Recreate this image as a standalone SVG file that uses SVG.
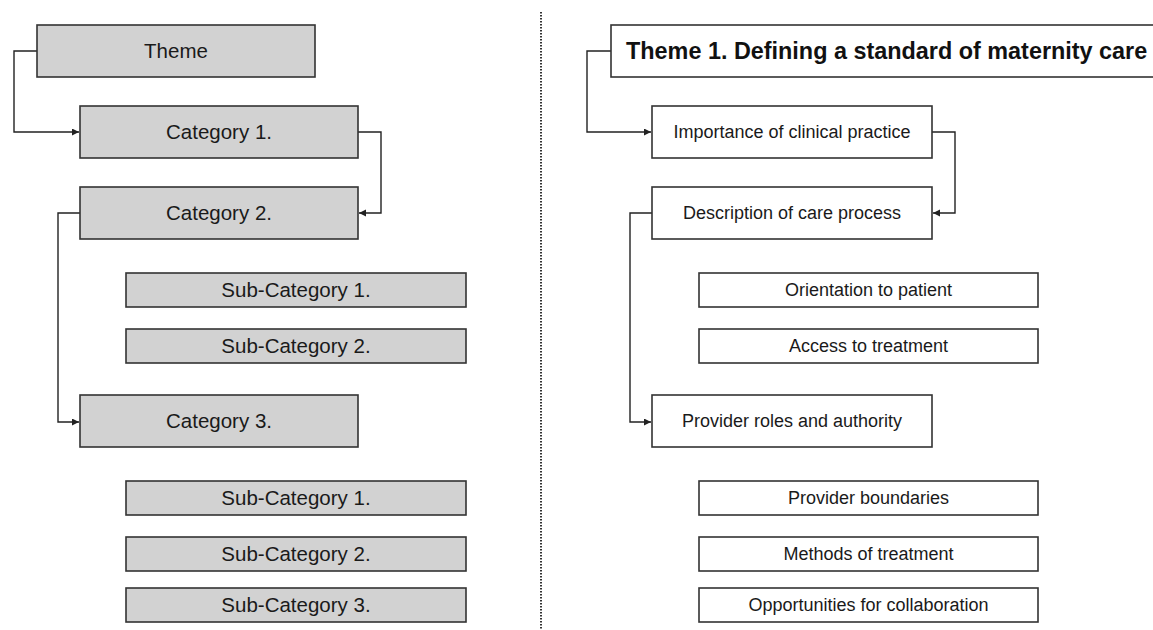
<svg xmlns="http://www.w3.org/2000/svg" width="1153" height="630" viewBox="0 0 1153 630">
<style>
.g{fill:#d2d2d2;stroke:#333;stroke-width:1.6}
.w{fill:#fff;stroke:#333;stroke-width:1.6}
.tl{font-family:"Liberation Sans",Arial,sans-serif;font-size:20.5px;fill:#1a1a1a;text-anchor:middle}
.tr{font-family:"Liberation Sans",Arial,sans-serif;font-size:18px;fill:#1a1a1a;text-anchor:middle}
.tb{font-family:"Liberation Sans",Arial,sans-serif;font-size:23.4px;font-weight:bold;fill:#111}
.c{fill:none;stroke:#222;stroke-width:1.4;marker-end:url(#ah)}
</style>
<defs>
<marker id="ah" markerUnits="userSpaceOnUse" markerWidth="8" markerHeight="8" refX="7" refY="3.5" orient="auto">
<path d="M0,0 L7,3.5 L0,7 z" fill="#222"/>
</marker>
</defs>
<rect width="1153" height="630" fill="#fff"/>
<line x1="541" y1="12" x2="541" y2="630" stroke="#333" stroke-width="2" stroke-dasharray="1.5 1.5"/>
<g id="connectors">
<path class="c" d="M37,51 H14 V132 H79"/>
<path class="c" d="M358,132 H381 V213 H359"/>
<path class="c" d="M80,213 H58 V422 H79"/>
<path class="c" d="M611,51 H587 V132 H651"/>
<path class="c" d="M932,132 H955 V213 H933"/>
<path class="c" d="M652,213 H630 V422 H651"/>
</g>
<g id="l-theme"><rect class="g" x="37" y="25" width="278" height="52"/><text class="tl" x="176" y="58">Theme</text></g>
<g id="l-cat1"><rect class="g" x="80" y="106" width="278" height="52"/><text class="tl" x="219" y="139">Category 1.</text></g>
<g id="l-cat2"><rect class="g" x="80" y="187" width="278" height="52"/><text class="tl" x="219" y="220">Category 2.</text></g>
<g id="l-sub21"><rect class="g" x="126" y="273" width="340" height="34"/><text class="tl" x="296" y="297">Sub-Category 1.</text></g>
<g id="l-sub22"><rect class="g" x="126" y="329" width="340" height="34"/><text class="tl" x="296" y="353">Sub-Category 2.</text></g>
<g id="l-cat3"><rect class="g" x="80" y="395" width="278" height="52"/><text class="tl" x="219" y="428">Category 3.</text></g>
<g id="l-sub31"><rect class="g" x="126" y="481" width="340" height="34"/><text class="tl" x="296" y="505">Sub-Category 1.</text></g>
<g id="l-sub32"><rect class="g" x="126" y="537" width="340" height="34"/><text class="tl" x="296" y="561">Sub-Category 2.</text></g>
<g id="l-sub33"><rect class="g" x="126" y="588" width="340" height="34"/><text class="tl" x="296" y="612">Sub-Category 3.</text></g>
<g id="r-theme"><rect class="w" x="611" y="25" width="560" height="52"/><text class="tb" x="626" y="59">Theme 1. Defining a standard of maternity care</text></g>
<g id="r-cat1"><rect class="w" x="652" y="106" width="280" height="52"/><text class="tr" x="792" y="138">Importance of clinical practice</text></g>
<g id="r-cat2"><rect class="w" x="652" y="187" width="280" height="52"/><text class="tr" x="792" y="219">Description of care process</text></g>
<g id="r-sub21"><rect class="w" x="699" y="273" width="339" height="34"/><text class="tr" x="868.5" y="296">Orientation to patient</text></g>
<g id="r-sub22"><rect class="w" x="699" y="329" width="339" height="34"/><text class="tr" x="868.5" y="352">Access to treatment</text></g>
<g id="r-cat3"><rect class="w" x="652" y="395" width="280" height="52"/><text class="tr" x="792" y="427">Provider roles and authority</text></g>
<g id="r-sub31"><rect class="w" x="699" y="481" width="339" height="34"/><text class="tr" x="868.5" y="504">Provider boundaries</text></g>
<g id="r-sub32"><rect class="w" x="699" y="537" width="339" height="34"/><text class="tr" x="868.5" y="560">Methods of treatment</text></g>
<g id="r-sub33"><rect class="w" x="699" y="588" width="339" height="34"/><text class="tr" x="868.5" y="611">Opportunities for collaboration</text></g>
</svg>
